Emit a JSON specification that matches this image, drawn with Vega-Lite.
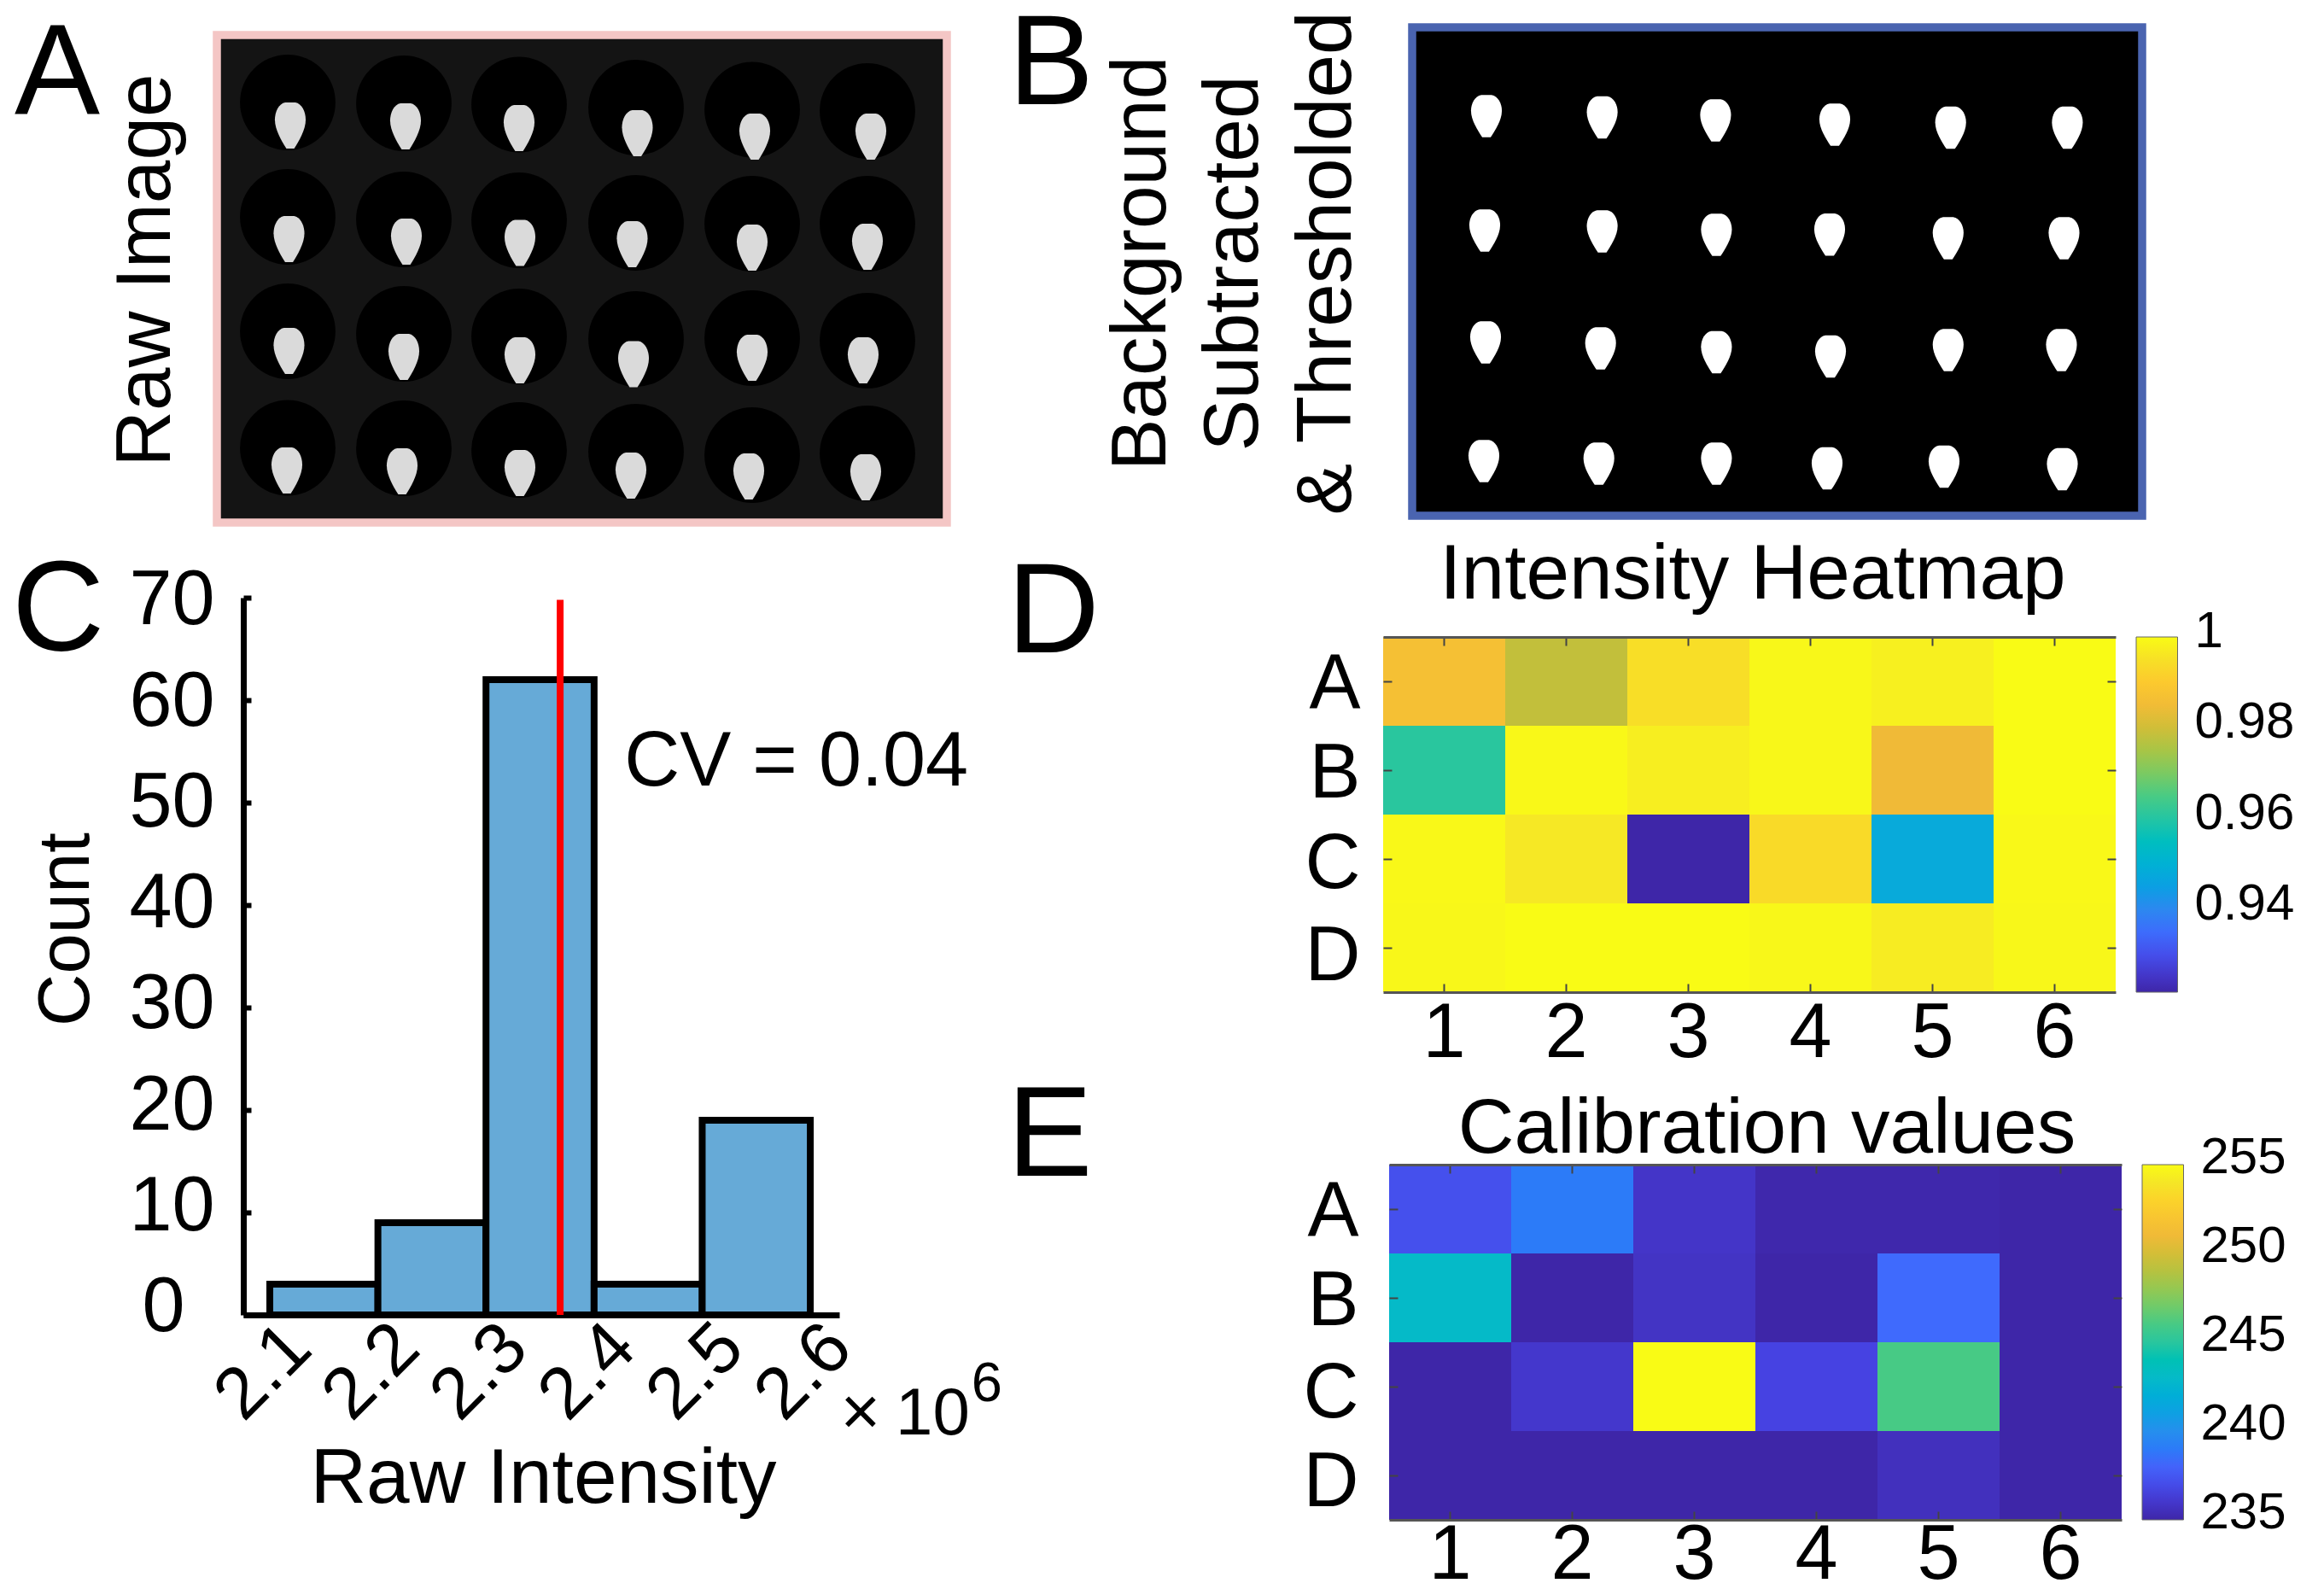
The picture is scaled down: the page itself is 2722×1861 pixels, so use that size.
{"$schema":"https://vega.github.io/schema/vega-lite/v6.json","background":"white","padding":{"left":14,"top":2,"right":0,"bottom":0},"autosize":{"type":"pad"},"bounds":"flush","spacing":1366,"resolve":{"scale":{"color":"independent"},"legend":{"color":"independent"}},"config":{"view":{"stroke":null},"font":"Liberation Sans","axis":{"grid":false},"title":{"font":"Liberation Sans","fontWeight":"normal"}},
"datasets":{
"wellsA":[{"x":83,"y":79},{"x":219,"y":80},{"x":354,"y":81.5},{"x":491,"y":85},{"x":627,"y":87.5},{"x":762,"y":89},{"x":83,"y":213},{"x":219,"y":216},{"x":354,"y":217},{"x":491,"y":220},{"x":627,"y":221},{"x":762,"y":221},{"x":83,"y":347},{"x":219,"y":350},{"x":354,"y":353},{"x":491,"y":356},{"x":627,"y":355},{"x":762,"y":358},{"x":83,"y":483.5},{"x":219,"y":484},{"x":354,"y":486},{"x":491,"y":488},{"x":627,"y":492},{"x":762,"y":490}],
"spotsA":[{"x":86,"y":106},{"x":221,"y":107},{"x":354,"y":109},{"x":492.5,"y":115},{"x":630,"y":119},{"x":766,"y":119},{"x":84.5,"y":239},{"x":222,"y":242},{"x":355,"y":243.5},{"x":486.5,"y":245},{"x":627,"y":249},{"x":762,"y":248},{"x":84.5,"y":370},{"x":219,"y":377},{"x":355,"y":381},{"x":488,"y":385.5},{"x":627,"y":378},{"x":757,"y":381},{"x":82,"y":510},{"x":217,"y":511},{"x":355,"y":513},{"x":485,"y":516},{"x":623,"y":517},{"x":760,"y":518}],
"spotsB":[{"x":87,"y":104},{"x":222.6,"y":105.5},{"x":355.4,"y":109},{"x":495,"y":114},{"x":630.7,"y":117.6},{"x":767.4,"y":117.6},{"x":85,"y":238},{"x":222.6,"y":239},{"x":356.4,"y":243},{"x":489,"y":242.7},{"x":627.8,"y":247},{"x":763.5,"y":247},{"x":86,"y":369},{"x":220.7,"y":376},{"x":356.4,"y":380.5},{"x":490,"y":385.5},{"x":627.8,"y":378},{"x":760.5,"y":378},{"x":84,"y":508},{"x":218.7,"y":511},{"x":356.4,"y":511},{"x":486,"y":516.6},{"x":623,"y":514.5},{"x":761.5,"y":517.4}],
"heatD":[{"row":"A","col":1,"v":0.9867},{"row":"A","col":2,"v":0.978},{"row":"A","col":3,"v":0.9945},{"row":"A","col":4,"v":0.9992},{"row":"A","col":5,"v":0.998},{"row":"A","col":6,"v":1},{"row":"B","col":1,"v":0.9609},{"row":"B","col":2,"v":0.9995},{"row":"B","col":3,"v":0.9976},{"row":"B","col":4,"v":0.9992},{"row":"B","col":5,"v":0.9844},{"row":"B","col":6,"v":1},{"row":"C","col":1,"v":0.9995},{"row":"C","col":2,"v":0.9965},{"row":"C","col":3,"v":0.9218},{"row":"C","col":4,"v":0.9937},{"row":"C","col":5,"v":0.948},{"row":"C","col":6,"v":0.9995},{"row":"D","col":1,"v":0.9992},{"row":"D","col":2,"v":1},{"row":"D","col":3,"v":1},{"row":"D","col":4,"v":0.9992},{"row":"D","col":5,"v":0.9973},{"row":"D","col":6,"v":0.9992}],
"heatE":[{"row":"A","col":1,"v":237.2},{"row":"A","col":2,"v":239},{"row":"A","col":3,"v":235.9},{"row":"A","col":4,"v":235.1},{"row":"A","col":5,"v":235.1},{"row":"A","col":6,"v":235},{"row":"B","col":1,"v":243},{"row":"B","col":2,"v":235},{"row":"B","col":3,"v":235.8},{"row":"B","col":4,"v":235},{"row":"B","col":5,"v":238.3},{"row":"B","col":6,"v":235},{"row":"C","col":1,"v":235},{"row":"C","col":2,"v":236},{"row":"C","col":3,"v":255},{"row":"C","col":4,"v":236.6},{"row":"C","col":5,"v":246},{"row":"C","col":6,"v":235},{"row":"D","col":1,"v":235},{"row":"D","col":2,"v":235},{"row":"D","col":3,"v":235},{"row":"D","col":4,"v":235},{"row":"D","col":5,"v":235.6},{"row":"D","col":6,"v":235}]
},
"hconcat":[
{"vconcat":[
{"width":855,"height":580,
"encoding":{"x":{"field":"x","type":"quantitative","scale":{"domain":[0,855],"range":[0,855],"nice":false},"axis":null},"y":{"field":"y","type":"quantitative","scale":{"domain":[0,571],"range":[9,580],"nice":false},"axis":{"title":"Raw Image","titleFontSize":91,"titleFontWeight":"normal","titleFont":"Liberation Sans","titleColor":"#000000","labels":false,"ticks":false,"domain":false,"titleX":-56,"titleY":284,"titleAngle":-90,"titleAlign":"center","titleBaseline":"alphabetic"}}},
"layer":[
{"data":{"values":[{"x":0,"x1":855,"y":0,"y1":571}]},"mark":{"type":"rect","fill":"#141414","stroke":"#F4C6C5","strokeWidth":9.5},"encoding":{"x2":{"field":"x1"},"y2":{"field":"y1"}}},
{"data":{"name":"wellsA"},"mark":{"type":"point","shape":"circle","filled":true,"fill":"#000000","opacity":1,"size":12500}},
{"data":{"name":"spotsA"},"mark":{"type":"point","filled":true,"fill":"#DADADA","opacity":1,"size":2900,"shape":"M-0.22,-1 L0.22,-1 C0.5,-0.95 0.67,-0.6 0.67,-0.25 C0.67,0.2 0.36,0.7 0.17,1 L-0.17,1 C-0.36,0.7 -0.67,0.2 -0.67,-0.25 C-0.67,-0.6 -0.5,-0.95 -0.22,-1 Z"}},
{"data":{"values":[{"x":-237,"y":92,"label":"A"}]},"mark":{"type":"text","font":"Liberation Sans","fontSize":150,"align":"left","baseline":"alphabetic"},"encoding":{"text":{"field":"label"}}}
]},
{"width":855,"height":840,
"layer":[
{"data":{"values":[{"start":2.1,"end":2.2,"count":3},{"start":2.2,"end":2.3,"count":9},{"start":2.3,"end":2.4,"count":62},{"start":2.4,"end":2.5,"count":3},{"start":2.5,"end":2.6,"count":19}]},
"mark":{"type":"rect","fill":"#66AAD7","stroke":"#000000","strokeWidth":8},
"encoding":{"x":{"field":"start","type":"quantitative","scale":{"domain":[2.0755,2.6268],"range":[31,729],"nice":false,"zero":false},"axis":{"values":[2.1,2.2,2.3,2.4,2.5,2.6],"format":".1f","title":"Raw Intensity","titleFontSize":91,"titleFontWeight":"normal","titleFont":"Liberation Sans","titleColor":"#000000","titleX":382,"titleY":219,"titleBaseline":"alphabetic","titleAlign":"center","labelFontSize":85,"labelFont":"Liberation Sans","labelColor":"#000000","labelAngle":-45,"labelAlign":"center","labelBaseline":"middle","labelPadding":66,"labelOffset":-8,"ticks":false,"domainColor":"#000000","domainWidth":7,"labelOverlap":false,"labelBound":false,"labelFlush":false}},"x2":{"field":"end"},
"y":{"field":"count","type":"quantitative","scale":{"domain":[0,70],"nice":false},"axis":{"values":[0,10,20,30,40,50,60,70],"offset":-31,"title":"Count","titleFontSize":85,"titleFontWeight":"normal","titleFont":"Liberation Sans","titleColor":"#000000","titleX":-182,"titleY":388,"titleAngle":-90,"titleAlign":"center","titleBaseline":"alphabetic","labelFontSize":90,"labelFont":"Liberation Sans","labelColor":"#000000","labelPadding":{"condition":{"test":"datum.value===0","value":78},"value":43},"labelOffset":{"condition":[{"test":"datum.value===0","value":-9},{"test":"datum.value===10","value":-7},{"test":"datum.value===20","value":-5},{"test":"datum.value===30","value":-3.5},{"test":"datum.value===40","value":-2},{"test":"datum.value===50","value":0},{"test":"datum.value===60","value":2}],"value":3.5},"tickSize":-9,"tickWidth":6,"tickColor":"#000000","domainColor":"#000000","domainWidth":7,"labelOverlap":false,"labelBound":false,"labelFlush":false}},"y2":{"datum":0}}},
{"data":{"values":[{"x":2.3686,"y0":0,"y1":69.8}]},"mark":{"type":"rule","color":"#FF0000","strokeWidth":8},"encoding":{"x":{"field":"x","type":"quantitative"},"y":{"field":"y0","type":"quantitative"},"y2":{"field":"y1"}}},
{"data":{"values":[{"x":2.428,"y":51.67,"label":"CV = 0.04","size":90},{"x":1.8615,"y":64.8,"label":"C","size":150},{"x":2.628,"y":-11.67,"label":"×","size":80},{"x":2.679,"y":-11.67,"label":"10","size":78},{"x":2.749,"y":-8.4,"label":"6","size":65}]},"mark":{"type":"text","font":"Liberation Sans","align":"left","baseline":"alphabetic"},"encoding":{"x":{"field":"x","type":"quantitative"},"y":{"field":"y","type":"quantitative"},"text":{"field":"label"},"size":{"field":"size","type":"quantitative","scale":null,"legend":null}}}
]}
],"spacing":88,"bounds":"flush"},
{"vconcat":[
{"vconcat":[
{"width":889,"height":572,
"encoding":{"x":{"field":"x","type":"quantitative","scale":{"domain":[0,855],"range":[34,889],"nice":false},"axis":null},"y":{"field":"y","type":"quantitative","scale":{"domain":[0,572],"range":[0,572],"nice":false},"axis":{"title":["Background","Subtracted","& Thresholded"],"titleFontSize":91,"titleFontWeight":"normal","titleFont":"Liberation Sans","titleColor":"#000000","titleLineHeight":108.5,"labels":false,"ticks":false,"domain":false,"titleX":-256,"titleY":276,"titleAngle":-90,"titleAlign":"center","titleBaseline":"alphabetic"}}},
"layer":[
{"data":{"values":[{"x":0,"x1":855,"y":0,"y1":572}]},"mark":{"type":"rect","fill":"#000000","stroke":"#4A64B0","strokeWidth":9.5},"encoding":{"x2":{"field":"x1"},"y2":{"field":"y1"}}},
{"data":{"name":"spotsB"},"mark":{"type":"point","filled":true,"fill":"#FFFFFF","opacity":1,"size":2450,"shape":"M-0.24,-1 L0.24,-1 C0.55,-0.95 0.73,-0.6 0.73,-0.25 C0.73,0.2 0.4,0.7 0.2,1 L-0.2,1 C-0.4,0.7 -0.73,0.2 -0.73,-0.25 C-0.73,-0.6 -0.55,-0.95 -0.24,-1 Z"}},
{"data":{"values":[{"x":-473,"y":90,"label":"B"}]},"mark":{"type":"text","font":"Liberation Sans","fontSize":150,"align":"left","baseline":"alphabetic"},"encoding":{"text":{"field":"label"}}}
]},
{"width":858,"height":416,
"title":{"text":"Intensity Heatmap","fontSize":91,"fontWeight":"normal","font":"Liberation Sans","anchor":"middle","dx":4,"offset":-76},
"data":{"name":"heatD"},
"layer":[
{"mark":{"type":"rect"},"encoding":{
"x":{"field":"col","type":"ordinal","scale":{"domain":[1,2,3,4,5,6],"paddingInner":0,"paddingOuter":0},"axis":{"title":null,"labelAngle":0,"labelFontSize":90,"labelFont":"Liberation Sans","labelColor":"#000000","labelBaseline":"alphabetic","labelPadding":85,"tickSize":-10,"tickWidth":2,"tickColor":"#444444","domainColor":"#555555","domainWidth":3}},
"y":{"field":"row","type":"nominal","scale":{"domain":["A","B","C","D"],"paddingInner":0,"paddingOuter":0},"axis":{"title":null,"labelFontSize":90,"labelFont":"Liberation Sans","labelColor":"#000000","labelPadding":37,"labelOffset":{"condition":[{"test":"datum.value==='A'","value":3.5},{"test":"datum.value==='B'","value":5},{"test":"datum.value==='C'","value":7}],"value":10.5},"tickSize":-10,"tickWidth":2,"tickColor":"#444444","domain":false}},
"color":{"field":"v","type":"quantitative","scale":{"type":"linear","domain":[0.9218,0.92806,0.93432,0.94058,0.94684,0.9531,0.95936,0.96562,0.97188,0.97814,0.9844,0.99066,0.9961,1],"range":["#3E26A8","#4642E2","#4367FD","#2F8BEE","#1FA6DD","#05BAC8","#21C4A6","#4ECB80","#8DC956","#C3BF3B","#F0BA37","#FDCB2D","#F5E626","#F9FB15"]},"legend":{"title":null,"orient":"none","legendX":882,"legendY":0,"gradientLength":416,"gradientThickness":48.5,"gradientStrokeColor":"#666666","gradientStrokeWidth":1,"values":[0.94,0.96,0.98,1],"labelFontSize":60,"labelFont":"Liberation Sans","labelColor":"#000000","labelOffset":20,"direction":"vertical","format":"~g","encode":{"labels":{"update":{"baseline":{"value":"middle"},"dy":{"value":-6}}}}}}}},
{"mark":{"type":"rect","fillOpacity":0},"encoding":{
"x":{"field":"col","type":"ordinal","axis":{"title":null,"orient":"top","labels":false,"tickSize":-10,"tickWidth":2,"tickColor":"#444444","domainColor":"#555555","domainWidth":3}},
"y":{"field":"row","type":"nominal","axis":{"title":null,"orient":"right","labels":false,"tickSize":-10,"tickWidth":2,"tickColor":"#444444","domain":false}}}},
{"data":{"values":[{"label":"D"}]},"mark":{"type":"text","font":"Liberation Sans","fontSize":150,"align":"left","baseline":"alphabetic","dx":-512,"dy":-33.6},"encoding":{"x":{"datum":1,"type":"ordinal","axis":null},"y":{"datum":"A","type":"nominal","axis":null},"text":{"field":"label"}}}
],"resolve":{"axis":{"x":"independent","y":"independent"}}}
],"spacing":142,"bounds":"flush","resolve":{"scale":{"color":"independent"},"legend":{"color":"independent"}}},
{"width":865,"height":416,
"title":{"text":"Calibration values","fontSize":91,"fontWeight":"normal","font":"Liberation Sans","anchor":"middle","dx":17,"offset":-112},
"data":{"name":"heatE"},
"layer":[
{"mark":{"type":"rect"},"encoding":{
"x":{"field":"col","type":"ordinal","scale":{"domain":[1,2,3,4,5,6],"paddingInner":0,"paddingOuter":0,"range":[7,865]},"axis":{"title":null,"labelAngle":0,"labelFontSize":90,"labelFont":"Liberation Sans","labelColor":"#000000","labelBaseline":"alphabetic","labelPadding":78,"tickSize":-10,"tickWidth":2,"tickColor":"#444444","domainColor":"#555555","domainWidth":3}},
"y":{"field":"row","type":"nominal","scale":{"domain":["A","B","C","D"],"paddingInner":0,"paddingOuter":0},"axis":{"title":null,"offset":-7,"labelFontSize":90,"labelFont":"Liberation Sans","labelColor":"#000000","labelPadding":46,"labelOffset":{"condition":[{"test":"datum.value==='A'","value":3.5},{"test":"datum.value==='B'","value":5},{"test":"datum.value==='C'","value":9}],"value":9},"tickSize":-10,"tickWidth":2,"tickColor":"#444444","domain":false}},
"color":{"field":"v","type":"quantitative","scale":{"type":"linear","domain":[235,236.6,238.2,239.8,241.4,243,244.6,246.2,247.8,249.4,251,252.6,254,255],"range":["#3E26A8","#4642E2","#4367FD","#2F8BEE","#1FA6DD","#05BAC8","#21C4A6","#4ECB80","#8DC956","#C3BF3B","#F0BA37","#FDCB2D","#F5E626","#F9FB15"]},"legend":{"title":null,"orient":"none","legendX":889,"legendY":0,"gradientLength":416,"gradientThickness":48.5,"gradientStrokeColor":"#666666","gradientStrokeWidth":1,"values":[235,240,245,250,255],"labelFontSize":60,"labelFont":"Liberation Sans","labelColor":"#000000","labelOffset":20,"direction":"vertical","encode":{"labels":{"update":{"baseline":{"value":"middle"},"dy":{"value":-8}}}}}}}},
{"mark":{"type":"rect","fillOpacity":0},"encoding":{
"x":{"field":"col","type":"ordinal","axis":{"title":null,"orient":"top","labels":false,"tickSize":-10,"tickWidth":2,"tickColor":"#444444","domainColor":"#555555","domainWidth":3}},
"y":{"field":"row","type":"nominal","axis":{"title":null,"orient":"right","labels":false,"tickSize":-10,"tickWidth":2,"tickColor":"#444444","domain":false}}}},
{"data":{"values":[{"label":"E"}]},"mark":{"type":"text","font":"Liberation Sans","fontSize":150,"align":"left","baseline":"alphabetic","dx":-519,"dy":-39},"encoding":{"x":{"datum":1,"type":"ordinal","axis":null},"y":{"datum":"A","type":"nominal","axis":null},"text":{"field":"label"}}}
],"resolve":{"axis":{"x":"independent","y":"independent"}}}
],"spacing":1332,"bounds":"flush","resolve":{"scale":{"color":"independent"},"legend":{"color":"independent"}}}
]}
